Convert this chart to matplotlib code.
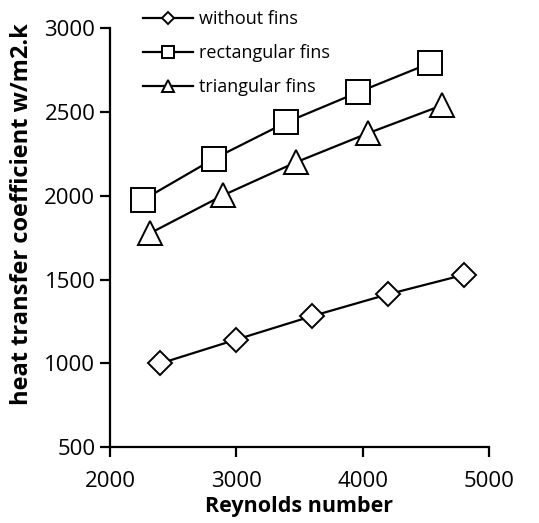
import matplotlib.pyplot as plt

plt.rcParams['font.family'] = ['Open Sans', 'DejaVu Sans']

re_without = [2400, 3000, 3600, 4200, 4800]
h_without = [1000, 1142, 1282, 1412, 1528]

re_rect = [2260, 2825, 3395, 3965, 4535]
h_rect = [1975, 2222, 2438, 2618, 2792]

re_tri = [2318, 2895, 3472, 4045, 4630]
h_tri = [1777, 2003, 2200, 2374, 2540]

fig = plt.figure(figsize=(5.39, 5.23), dpi=100)
ax = fig.add_axes([0.204, 0.145, 0.703, 0.801])

ax.plot(re_without, h_without, color='black', lw=1.6, marker='D', ms=12,
        mfc='white', mec='black', mew=1.4, label='without fins')
ax.plot(re_rect, h_rect, color='black', lw=1.6, marker='s', ms=17,
        mfc='white', mec='black', mew=1.4, label='rectangular fins')
ax.plot(re_tri, h_tri, color='black', lw=1.6, marker='^', ms=17,
        mfc='white', mec='black', mew=1.4, label='triangular fins')

ax.set_xlim(2000, 5000)
ax.set_ylim(500, 3000)
ax.set_xticks([2000, 3000, 4000, 5000])
ax.set_yticks([500, 1000, 1500, 2000, 2500, 3000])
ax.spines['top'].set_visible(False)
ax.spines['right'].set_visible(False)
ax.spines['left'].set_linewidth(1.6)
ax.spines['bottom'].set_linewidth(1.6)
ax.tick_params(direction='out', length=7, width=1.6, labelsize=16)
ax.tick_params(axis='x', pad=10)

ax.set_xlabel('Reynolds number', fontsize=15.5, fontweight='bold', labelpad=3)
ax.set_ylabel('heat transfer coefficient w/m2.k', fontsize=17,
              fontweight='bold')
ax.yaxis.set_label_coords(-0.2, 0.556)

leg = ax.legend(loc='upper left', bbox_to_anchor=(0.235, 1.012),
                bbox_transform=fig.transFigure, frameon=False,
                markerscale=0.55, fontsize=13, handlelength=2.8,
                labelspacing=0.9, handletextpad=0.3)

fig.savefig('out.png', dpi=100)
